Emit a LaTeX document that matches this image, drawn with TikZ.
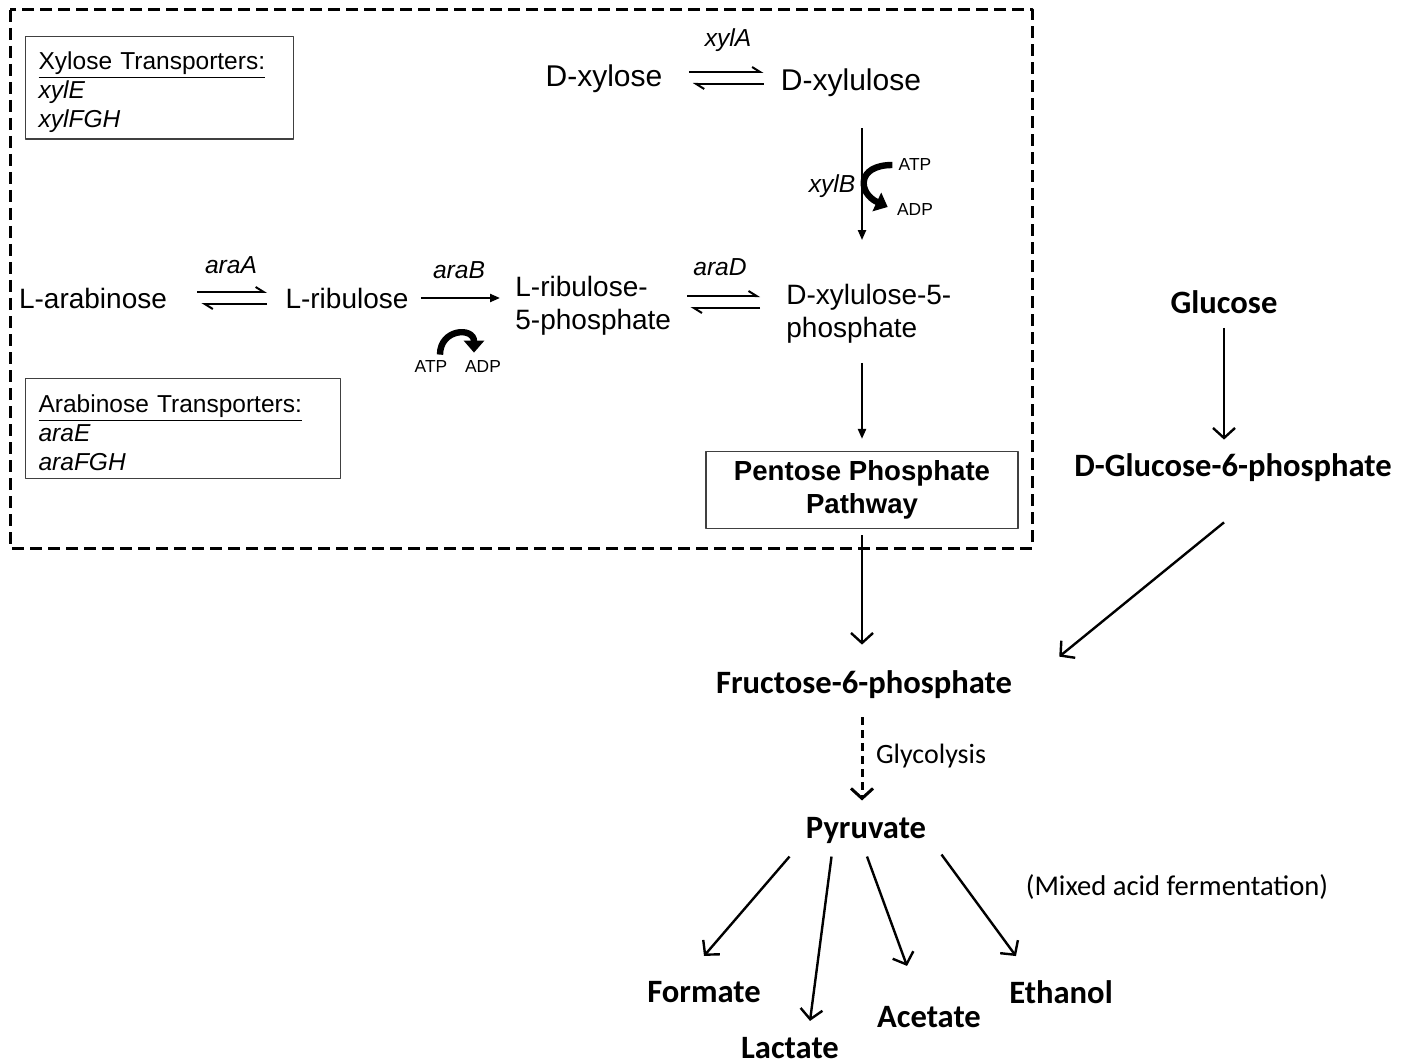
\documentclass[tikz,border=0pt]{standalone}
\usepackage{fontspec}
\setmainfont{Liberation Sans}
\newfontfamily\calib{Carlito}
\usetikzlibrary{arrows.meta}

\begin{document}
\begin{tikzpicture}[x=0.5pt, y=-0.5pt, line join=round, >={Triangle[length=5pt,width=4pt]},
    met/.style={inner sep=0pt, font=\fontsize{15}{17}\selectfont, align=left},
    smet/.style={met, font=\fontsize{14}{16.5}\selectfont},
    enz/.style={inner sep=0pt, font=\itshape\fontsize{12.3}{14}\selectfont},
    cof/.style={inner sep=0pt, font=\fontsize{8.7}{10}\selectfont},
    bmet/.style={inner sep=0pt, font=\calib\bfseries\fontsize{16.3}{19}\selectfont},
    note/.style={inner sep=0pt, font=\calib\fontsize{14}{17}\selectfont},
    tbox/.style={draw=black!75, semithick, anchor=north west, align=left, inner xsep=6.5pt,
        font=\fontsize{12.25}{14.5}\selectfont, minimum height=50pt},
    fwd/.style={line width=1pt, -{Straight Barb[left,length=4pt,width=5pt]}},
    rxn/.style={line width=1.1pt, ->},
    outarr/.style={line width=1.2pt, -{Straight Barb[length=5pt,width=11pt]}},
    kin/.style={line width=3.2pt, -{Triangle[length=6pt,width=10pt]}}]
    \useasboundingbox (0,0) rectangle (1413,1064);
    % cell boundary
    \draw[line width=1.5pt, dash pattern=on 6pt off 3pt] (10,10) rectangle (1032,548);
    % transporters
    \node[tbox, text width=121pt] (xyltr) at (25,36) {\rule{0pt}{13pt}\underline{Xylose Transporters:}\\\textit{xylE}\\\textit{xylFGH}};
    \node[tbox, text width=144.5pt] (aratr) at (25,378) {\rule{0pt}{13pt}\underline{Arabinose Transporters:}\\\textit{araE}\\\textit{araFGH}};
    % metabolites
    \node[met] (dxyl) at (604,79) {D-xylose};
    \node[met] (dxylu) at (851,83) {D-xylulose};
    \node[smet] (larab) at (93,298) {L-arabinose};
    \node[smet] (lribu) at (347,298) {L-ribulose};
    \node[smet, anchor=west] (lribup) at (515,306) {L-ribulose-\\5-phosphate};
    \node[smet, anchor=west] (dxylup) at (786,314) {D-xylulose-5-\\phosphate};
    \node[draw=black!75, semithick, minimum width=156pt, minimum height=38.5pt, align=center,
        font=\bfseries\fontsize{13.8}{16.5}\selectfont] (ppp) at (862,490) {Pentose Phosphate\\Pathway};
    % enzymes and cofactors
    \node[enz] (xyla) at (728,40) {xylA};
    \node[enz] (xylb) at (832,186) {xylB};
    \node[enz] (araa) at (231,265) {araA};
    \node[enz] (arab) at (459,270) {araB};
    \node[enz] (arad) at (720,267) {araD};
    \node[cof] (atpa) at (915,165) {ATP};
    \node[cof] (adpa) at (915,210) {ADP};
    \node[cof] (atpb) at (431,367) {ATP};
    \node[cof] (adpb) at (483,367) {ADP};
    % glycolysis side
    \node[bmet] (gluc) at (1224,302) {Glucose};
    \node[bmet] (g6p) at (1233,468) {D-Glucose-6-phosphate};
    \node[bmet] (f6p) at (864,685) {Fructose-6-phosphate};
    \node[note] (glyc) at (931,756) {Glycolysis};
    \node[bmet] (pyr) at (866,830) {Pyruvate};
    \node[note, font=\calib\fontsize{14.3}{17}\selectfont] (mixed) at (1177,887) {(Mixed acid fermentation)};
    \node[bmet] (form) at (704,992) {Formate};
    \node[bmet] (lact) at (790,1048) {Lactate};
    \node[bmet] (acet) at (929,1017) {Acetate};
    \node[bmet] (eth) at (1061,992) {Ethanol};
    % equilibria
    \draw[fwd, shorten <=13pt, shorten >=8.5pt] ([yshift=3.5pt]dxyl.east) -- ([yshift=3.5pt]dxyl.east -| dxylu.west);
    \draw[fwd, shorten <=8.5pt, shorten >=15pt] ([yshift=-2.5pt]dxyl.east -| dxylu.west) -- ([yshift=-2.5pt]dxyl.east);
    \draw[fwd, shorten <=15pt, shorten >=9pt] ([yshift=3pt]larab.east) -- ([yshift=3pt]larab.east -| lribu.west);
    \draw[fwd, shorten <=9pt, shorten >=17pt] ([yshift=-3pt]larab.east -| lribu.west) -- ([yshift=-3pt]larab.east);
    \draw[fwd, shorten <=8pt, shorten >=13pt] ([yshift=5pt]lribup.east) -- ([yshift=5pt]lribup.east -| dxylup.west);
    \draw[fwd, shorten <=13pt, shorten >=9.5pt] ([yshift=-1pt]lribup.east -| dxylup.west) -- ([yshift=-1pt]lribup.east);
    % irreversible steps
    \draw[rxn, shorten <=6pt, shorten >=7.5pt] (lribu.east) -- (lribu.east -| lribup.west);
    \draw[rxn, shorten <=15.5pt, shorten >=22pt] (dxylu.south -| ppp.north) -- (dxylup.north -| ppp.north);
    \draw[rxn, shorten <=9.5pt, shorten >=6pt] (dxylup.south -| ppp.north) -- (ppp.north);
    \draw[kin] ([xshift=-3pt]atpa.west) .. controls +(-36,0) and +(-30,-14) .. ([xshift=-4.5pt,yshift=1.5pt]adpa.west);
    \draw[kin] ([xshift=4.5pt,yshift=3pt]atpb.north) .. controls +(0,-26) and +(0,-26) .. ([xshift=-4.5pt,yshift=4pt]adpb.north);
    \draw[outarr, shorten <=3pt, shorten >=13pt] (ppp.south) -- (ppp.south |- f6p.north);
    \draw[outarr, shorten <=7pt, shorten >=7pt] (gluc.south) -- (gluc.south |- g6p.north);
    \draw[outarr] ([xshift=-4.5pt,yshift=-20pt]g6p.south) -- ([shift={(23.5pt,7pt)}]f6p.north east);
    \draw[outarr, line width=1.5pt, dash pattern=on 4pt off 2.5pt, shorten <=9pt, shorten >=8pt] (f6p.south -| ppp.south) -- (pyr.north -| ppp.south);
    \draw[outarr] ([xshift=-8pt,yshift=-6.5pt]pyr.south west) -- ([yshift=12.5pt]form.north);
    \draw[outarr] ([xshift=13pt,yshift=-6.5pt]pyr.south west) -- ([xshift=10pt,yshift=8pt]lact.north);
    \draw[outarr] ([xshift=0.5pt,yshift=-6.5pt]pyr.south) -- ([xshift=-11pt,yshift=20pt]acet.north);
    \draw[outarr] ([xshift=7.5pt,yshift=-5.5pt]pyr.south east) -- ([xshift=3.5pt,yshift=12pt]eth.north west);
\end{tikzpicture}
\end{document}
